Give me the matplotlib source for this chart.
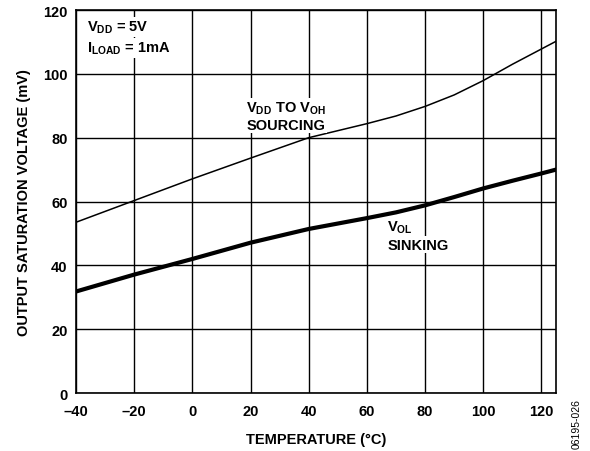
import numpy as np
import matplotlib.pyplot as plt

plt.rcParams['font.family'] = ['Liberation Sans', 'DejaVu Sans']
plt.rcParams['mathtext.fontset'] = 'custom'
plt.rcParams['mathtext.rm'] = 'Liberation Sans'
plt.rcParams['mathtext.bf'] = 'Liberation Sans:bold'

# temperature points (°C) and saturation voltages (mV)
temp = [-40, -20, 0, 20, 40, 60, 70, 80, 90, 100, 110, 120, 125]
v_source = [53.5, 60.3, 67.1, 73.6, 80.0, 84.4, 86.8, 89.8, 93.4, 97.9, 103.0, 107.8, 110.2]
v_sink = [31.8, 37.1, 42.0, 47.1, 51.4, 54.8, 56.6, 58.8, 61.4, 64.1, 66.5, 68.8, 70.0]

xticks = [-40, -20, 0, 20, 40, 60, 80, 100, 120]
xticklabels = ['–40', '–20', '0', '20', '40', '60', '80', '100', '120']
yticks = [0, 20, 40, 60, 80, 100, 120]

fig = plt.figure(figsize=(5.9, 4.52), dpi=100)
ax = fig.add_axes([0.1288, 0.1283, 0.8136, 0.8473])

ax.plot(temp, v_source, color='black', lw=1.1, zorder=3)
ax.plot(temp, v_sink, color='black', lw=3.0, zorder=3)

ax.set_xlim(-40, 125)
ax.set_ylim(0, 120)
ax.set_xticks(xticks)
ax.set_xticklabels(xticklabels)
ax.set_yticks(yticks)
ax.grid(True, color='black', lw=1.0)
ax.tick_params(length=0, labelsize=10.5)
ax.tick_params(axis='x', pad=8)
ax.tick_params(axis='y', pad=6)
for lab in ax.get_xticklabels() + ax.get_yticklabels():
    lab.set_fontweight('bold')
for sp in ax.spines.values():
    sp.set_linewidth(1.2)

ax.set_xlabel('TEMPERATURE (°C)', fontsize=10.5, fontweight='bold', labelpad=10)
ax.set_ylabel('OUTPUT SATURATION VOLTAGE (mV)', fontsize=10.5, fontweight='bold', labelpad=9)

box = dict(facecolor='white', edgecolor='none', pad=1)
kw = dict(fontsize=10.5, fontweight='bold', va='center', bbox=box, zorder=4)
ax.text(-36.2, 114.7, r'V$_{\mathbf{DD}}$ = 5V', **kw)
ax.text(-36.2, 108.1, r'I$_{\mathbf{LOAD}}$ = 1mA', **kw)
ax.text(18.5, 89.5, r'V$_{\mathbf{DD}}$ TO V$_{\mathbf{OH}}$', **kw)
ax.text(18.5, 84.0, 'SOURCING', **kw)
ax.text(67.0, 52.0, r'V$_{\mathbf{OL}}$', **kw)
ax.text(67.0, 46.5, 'SINKING', **kw)

fig.text(0.978, 0.006, '06195-026', rotation=90, fontsize=7.5, ha='center', va='bottom')

fig.savefig('out.png', dpi=100)
